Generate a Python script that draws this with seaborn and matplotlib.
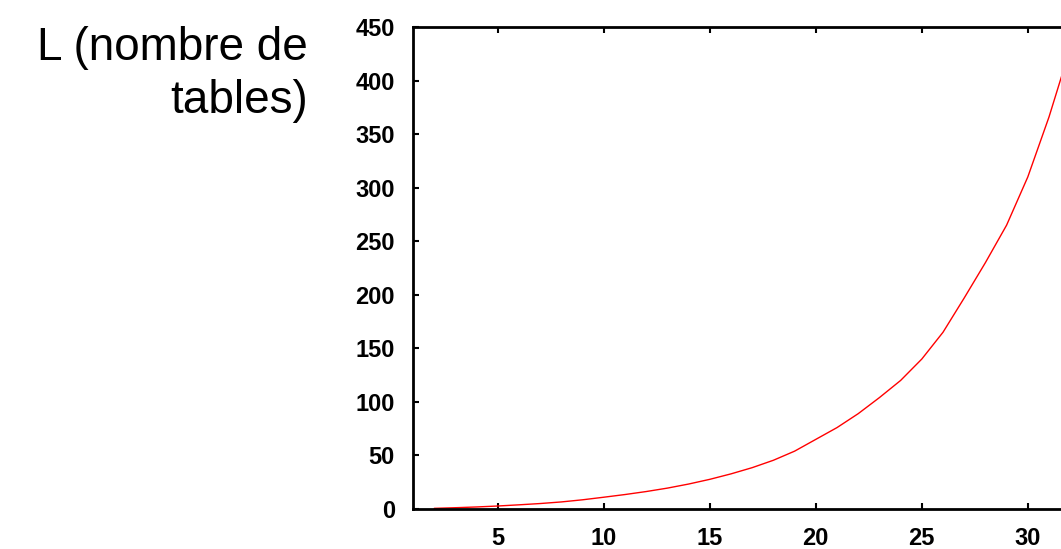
import matplotlib
matplotlib.use("Agg")
import matplotlib.pyplot as plt
import seaborn as sns
import pandas as pd

# Number of hash tables L needed as a function of k
k_values = [2, 3, 4, 5, 6, 7, 8, 9, 10, 11, 12, 13, 14, 15, 16, 17,
            18, 19, 20, 21, 22, 23, 24, 25, 26, 27, 28, 29, 30, 31, 32]
L_values = [0.6, 1.2, 1.9, 2.8, 3.9, 5.1, 6.6, 8.6, 11.0, 13.5, 16.3, 19.5,
            23.3, 27.7, 32.8, 38.6, 45.5, 54.0, 65.0, 76.0, 89.0, 104.0,
            120.0, 140.0, 165.0, 197.0, 230.0, 265.0, 310.0, 366.0, 430.0]
x_ticks = [5, 10, 15, 20, 25, 30]
y_ticks = [0, 50, 100, 150, 200, 250, 300, 350, 400, 450]
title_lines = ["L (nombre de", "tables)"]

sns.set_style("ticks")
plt.rcParams["font.family"] = ["Liberation Sans", "DejaVu Sans"]

W, H = 1061, 549
fig = plt.figure(figsize=(W / 100, H / 100), dpi=100)
left_px, right_px, top_px, bottom_px = 413, 1070.2, 27, 509
ax = fig.add_axes([left_px / W, (H - bottom_px) / H,
                   (right_px - left_px) / W, (bottom_px - top_px) / H])

df = pd.DataFrame({"k": k_values, "L": L_values})
sns.lineplot(data=df, x="k", y="L", ax=ax, color="#ff0000", linewidth=1.0)

ax.set_xlim(1, 32)
ax.set_ylim(0, 450)
ax.set_xticks(x_ticks)
ax.set_yticks(y_ticks)
ax.set_xticklabels([str(t) for t in x_ticks])
ax.set_yticklabels([str(t) for t in y_ticks])
ax.set_xlabel("")
ax.set_ylabel("")

for side in ["left", "right", "top", "bottom"]:
    ax.spines[side].set_visible(True)
    ax.spines[side].set_linewidth(2.0)
    ax.spines[side].set_color("black")

ax.tick_params(axis="both", which="both", direction="in", length=4, width=1.5,
               top=True, right=True, colors="black", pad=13)
for lab in ax.get_xticklabels() + ax.get_yticklabels():
    lab.set_fontweight("bold")
    lab.set_fontsize(17)

# Two-line y-axis caption, right-aligned to the left of the plot
baselines_px = [60, 113]
for line, base in zip(title_lines, baselines_px):
    fig.text(308 / W, 1 - base / H, line, ha="right", va="baseline",
             fontsize=33, color="black")

fig.savefig("out.png", dpi=100, facecolor="white")
